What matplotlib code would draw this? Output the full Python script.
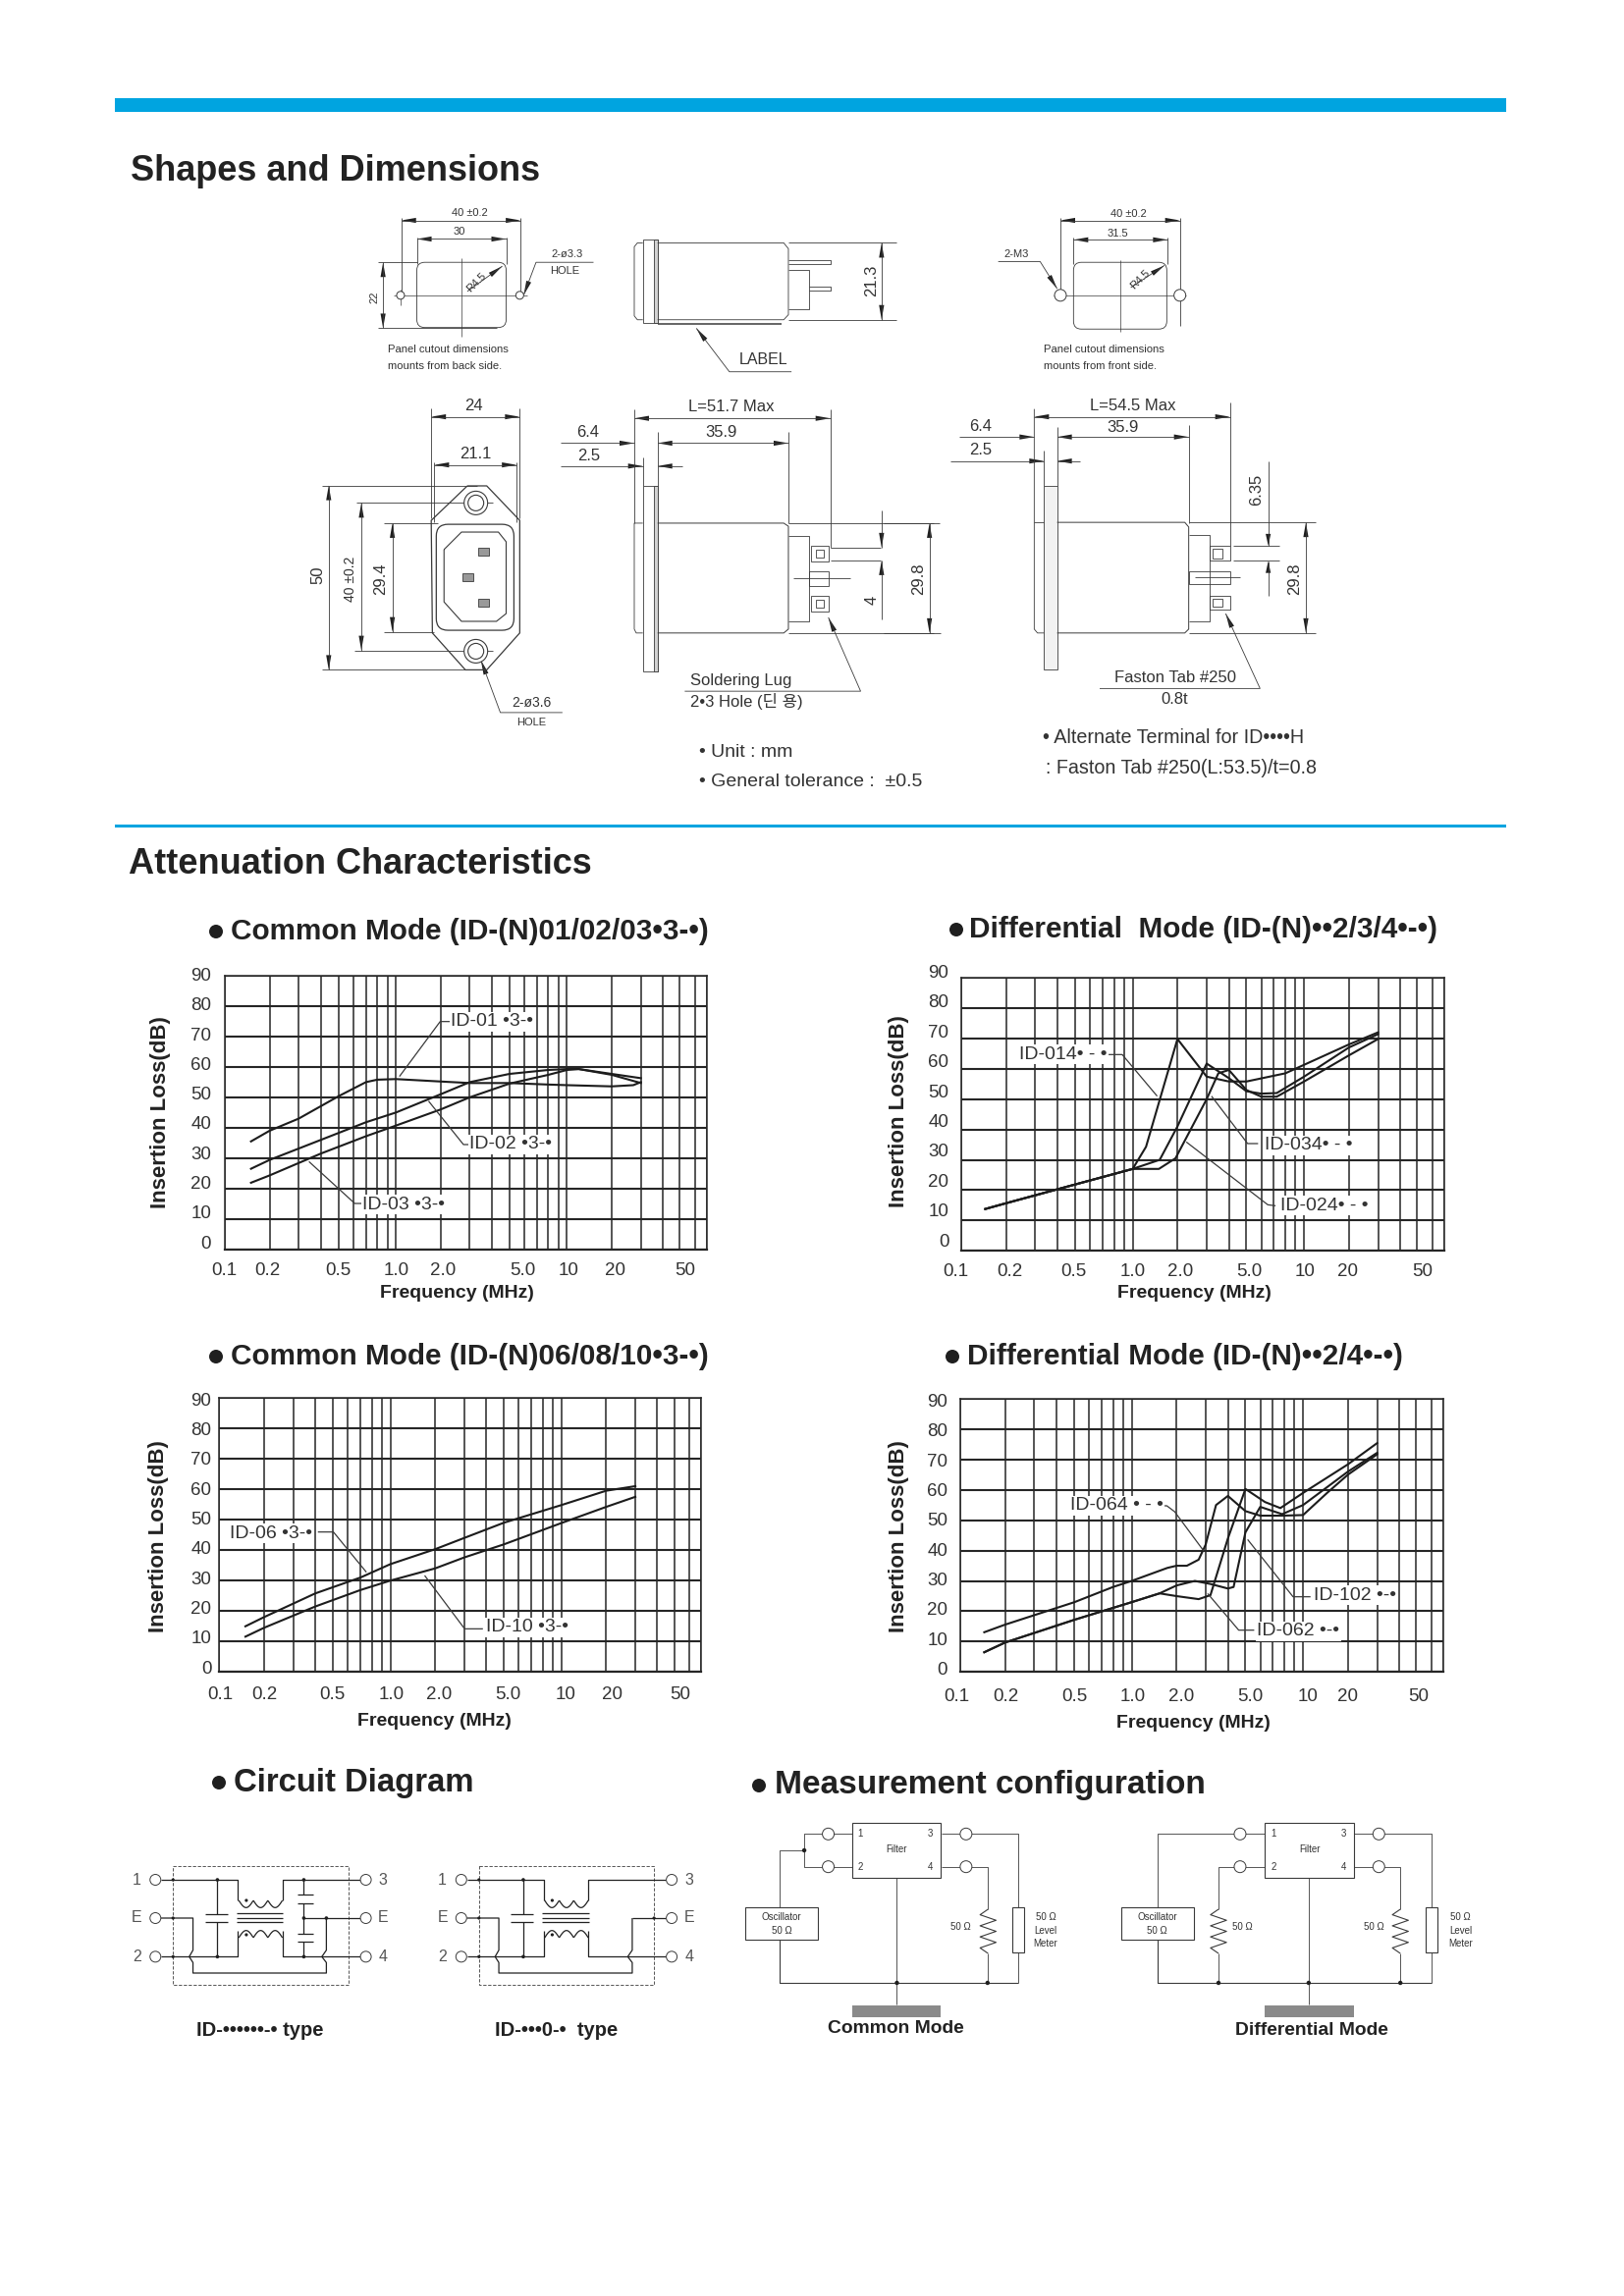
import numpy as np
import matplotlib
matplotlib.use("Agg")
import matplotlib.pyplot as plt
from matplotlib.patches import Circle, FancyBboxPatch, Polygon, Rectangle
from matplotlib.transforms import ScaledTranslation

plt.rcParams["font.family"] = ["Liberation Sans", "Noto Sans CJK KR", "DejaVu Sans"]

# grid of the printed log paper, frequency in MHz
grid_freq = [0.1, 0.2, 0.3, 0.4, 0.5, 0.6, 0.7, 0.8, 0.9, 1, 2, 3, 4, 5, 6, 7, 8, 9, 10,
             20, 30, 40, 50, 60, 70]
tick_freq = [0.1, 0.2, 0.5, 1, 2, 5, 10, 20, 50]
tick_text = ["0.1", "0.2", "0.5", "1.0", "2.0", "5.0", "10", "20", "50"]
db_ticks = [0, 10, 20, 30, 40, 50, 60, 70, 80, 90]

# common mode 01/02/03
id01_f = [0.15, 0.2, 0.3, 0.5, 0.7, 0.8, 1, 2, 3, 5, 8, 10, 20, 27, 30]
id01_db = [35.5, 39, 43, 50.4, 55, 55.8, 56, 55.2, 54.7, 54.7, 54.2, 54, 53.6, 54, 55]
id02_f = [0.15, 0.2, 0.4, 0.7, 1, 2, 3, 5, 8, 10, 12, 20, 30]
id02_db = [26.5, 29.4, 36, 41.8, 45, 51, 55, 57.7, 59, 59.3, 59.3, 57.7, 56.3]
id03_f = [0.15, 0.2, 0.4, 0.7, 1, 2, 3, 5, 8, 10, 12, 20, 30]
id03_db = [21.9, 24.3, 31.5, 37.2, 40.7, 46, 50, 54.5, 57.4, 59, 59.3, 57.4, 54.7]

# differential mode 014/024/034
id014_f = [0.145, 0.2, 0.4, 1, 1.23, 2, 3, 4, 5, 8, 20, 30]
id014_db = [13.8, 15.7, 20.3, 27, 34.3, 69.8, 57.4, 55.8, 55.8, 58.5, 68, 72]
id024_f = [0.145, 0.2, 0.4, 1, 1.52, 2, 3, 4, 5, 6, 7.25, 10, 20, 30]
id024_db = [13.8, 15.7, 20.3, 27, 30, 41, 61.7, 56.9, 52.6, 51.8, 52, 57.4, 67, 71.4]
id034_f = [0.145, 0.2, 0.4, 1, 1.5, 1.94, 3, 3.49, 4, 5, 6, 7.25, 10, 20, 30]
id034_db = [13.8, 15.7, 20.3, 27, 27, 30.5, 50, 58.5, 59.6, 53, 50.8, 50.8, 55.8, 64.4, 69.8]

# common mode 06/08/10
id06_f = [0.15, 0.2, 0.4, 0.7, 1, 2, 3, 5, 10, 20, 30]
id06_db = [15, 18, 25.8, 31, 35.4, 40.3, 44, 49, 54.8, 59.5, 61]
id10_f = [0.15, 0.2, 0.4, 0.7, 1, 2, 3, 5, 10, 20, 30]
id10_db = [11.6, 14.5, 21.5, 26.9, 30, 34, 37.6, 41.9, 48.9, 54.2, 57.5]

# differential mode 064/062/102
id064_f = [0.145, 0.2, 0.5, 0.8, 1, 1.74, 2, 2.31, 2.72, 3, 3.43, 4, 5, 6, 7.8, 10, 14.5, 20, 30]
id064_db = [13.1, 15.6, 23, 28, 30, 34.3, 35, 35, 37, 42, 55, 58, 53, 51.5, 51.5, 51.7, 59, 65, 71.7]
id102_f = [0.145, 0.2, 0.5, 1, 1.54, 2, 2.58, 3.19, 4, 4.3, 5, 6, 7.8, 10, 20, 30]
id102_db = [6.5, 9.7, 17.2, 23, 25.9, 28.5, 30, 29, 27.5, 28, 46, 54.4, 52, 55, 66, 72.2]
id062_f = [0.145, 0.2, 0.5, 1, 1.54, 2, 2.72, 3.19, 4, 5, 6.36, 7.64, 10, 20, 30]
id062_db = [6.5, 9.7, 17.2, 23, 25.9, 25, 24, 25.3, 44, 60.3, 56, 54, 59, 68.4, 75.4]

W, H = 1654, 2339
DPI = 100
INK = "#262626"
BLUE = "#00a4e0"

fig = plt.figure(figsize=(W / DPI, H / DPI), dpi=DPI, facecolor="white")
pg = fig.add_axes([0, 0, 1, 1], zorder=5)
pg.set_xlim(0, W)
pg.set_ylim(H, 0)
pg.axis("off")
pg.patch.set_visible(False)

# the printed grid is not a true log scale, so the axis follows its line positions
grid_pos = np.array([0, 115, 190, 247, 293, 330, 363, 392, 418, 440, 555, 630, 687, 732, 770,
                     802, 832, 858, 880, 995, 1070, 1126, 1170, 1209, 1240], dtype=float)
log_freq = np.log10(grid_freq)


def to_paper(f):
    return np.interp(np.log10(np.clip(f, 1e-3, None)), log_freq, grid_pos)


def from_paper(p):
    return 10 ** np.interp(p, grid_pos, log_freq)


def chart(box, curves, tick_dx, db_up, ypad, xdist, xlabel_xy, ylabel_xy):
    left, right, top, bottom = box
    ax = fig.add_axes([left / W, 1 - bottom / H, (right - left) / W, (bottom - top) / H], zorder=1)
    ax.set_xscale("function", functions=(to_paper, from_paper))
    ax.set_xlim(0.1, 70)
    ax.set_ylim(0, 90)
    ax.set_xticks(tick_freq, tick_text)
    ax.set_xticks(grid_freq, minor=True)
    ax.set_yticks(db_ticks)
    ax.tick_params(which="both", length=0, labelcolor="#333333", labelsize=13.5)
    ax.tick_params(axis="x", pad=(xdist - 6.5) / 1.389)
    ax.tick_params(axis="y", pad=ypad / 1.389)
    ax.grid(which="major", axis="x", color=INK, lw=1.1)
    ax.grid(which="minor", axis="x", color=INK, lw=1.1)
    ax.grid(which="major", axis="y", color=INK, lw=1.5)
    ax.set_axisbelow(True)
    for s in ax.spines.values():
        s.set_linewidth(1.1)
        s.set_color(INK)
    ax.spines["bottom"].set_linewidth(1.6)
    for f, db in curves:
        ax.plot(f, db, color="#1c1c1c", lw=1.5, solid_joinstyle="round", zorder=3)
    # printed labels sit a little off their grid lines
    for lab, dx in zip(ax.get_xticklabels(), tick_dx):
        lab.set_transform(lab.get_transform() + ScaledTranslation(dx / DPI, 0, fig.dpi_scale_trans))
    for lab, up in zip(ax.get_yticklabels(), np.linspace(db_up[0], db_up[1], 10)):
        lab.set_transform(lab.get_transform() + ScaledTranslation(0, up / DPI, fig.dpi_scale_trans))
    ax.set_xlabel("Frequency (MHz)", fontsize=14, fontweight="bold", color="#222222", va="center")
    ax.xaxis.set_label_coords((xlabel_xy[0] - left) / (right - left), (bottom - xlabel_xy[1]) / (bottom - top))
    ax.set_ylabel("Insertion Loss(dB)", fontsize=16, fontweight="bold", color="#222222", va="center")
    ax.yaxis.set_label_coords((ylabel_xy[0] - left) / (right - left), (bottom - ylabel_xy[1]) / (bottom - top))
    return ax


chart((229, 720, 994, 1272.7), [(id01_f, id01_db), (id02_f, id02_db), (id03_f, id03_db)],
      [-1, -2, -1, 0, 2, 13, 2, 4, 5], (7.7, 1.3), 14, 20, (465, 1318), (164, 1133))
chart((979, 1471, 996, 1274.3), [(id014_f, id014_db), (id024_f, id024_db), (id034_f, id034_db)],
      [-6, 4, -2, 0, 3, 3, 1, -1, 5], (11, 6.7), 12.6, 19, (1216, 1318), (915, 1132))
chart((223.3, 714.4, 1424, 1703.3), [(id06_f, id06_db), (id10_f, id10_db)],
      [1, 1, -1, 1, 4, 4, 4, 6, 6], (5, -1), 8, 21.7, (442, 1753), (162, 1565))
chart((978, 1470, 1425, 1703.3), [(id064_f, id064_db), (id102_f, id102_db), (id062_f, id062_db)],
      [-4, 1, 0, 1, 5, 5, 5, 0, 2], (4, -1.7), 13, 23.4, (1215, 1755), (915, 1565))


# zoom style coordinates -> page pixels
def zmap(x0, y0, sx, sy):
    return lambda x, y: (x0 + x / sx, y0 + y / sy)


def line(m, pts, lw=0.6, color="#3a3a3a", **kw):
    xy = np.array([m(*p) for p in pts])
    pg.plot(xy[:, 0], xy[:, 1], color=color, lw=lw, solid_capstyle="butt", **kw)


def arrow_head(tip, frm, length=15, half=2.6):
    tip, frm = np.array(tip, float), np.array(frm, float)
    d = (frm - tip) / np.hypot(*(frm - tip))
    n = np.array([-d[1], d[0]])
    pg.add_patch(Polygon([tip, tip + d * length + n * half, tip + d * length - n * half],
                         closed=True, color="#1f1f1f", lw=0))


def dim(m, a, b, lw=0.6):
    # dimension line with arrows pointing at both ends
    line(m, [a, b], lw=lw)
    arrow_head(m(*a), m(*b))
    arrow_head(m(*b), m(*a))


def leader(m, pts):
    line(m, pts)
    arrow_head(m(*pts[0]), m(*pts[1]))


def txt(m, x, y, s, size=12, ha="center", va="center", **kw):
    kw.setdefault("color", "#333333")
    px, py = m(x, y)
    pg.text(px, py, s, fontsize=size, ha=ha, va=va, **kw)


def rect(m, x1, y1, x2, y2, lw=0.6, fc="none", ec="#3a3a3a", **kw):
    a, b = m(x1, y1), m(x2, y2)
    pg.add_patch(Rectangle(a, b[0] - a[0], b[1] - a[1], fc=fc, ec=ec, lw=lw, **kw))


def rrect(m, x1, y1, x2, y2, r, lw=0.6, ec="#3a3a3a"):
    a, b = m(x1, y1), m(x2, y2)
    pg.add_patch(FancyBboxPatch(a, b[0] - a[0], b[1] - a[1],
                                boxstyle="round,pad=0,rounding_size=%g" % r, fc="none", ec=ec, lw=lw))


def circ(m, x, y, r, lw=0.7, fc="white", ec="#3a3a3a"):
    pg.add_patch(Circle(m(x, y), r, fc=fc, ec=ec, lw=lw, zorder=4))


def dot(m, x, y, r=2.2):
    pg.add_patch(Circle(m(x, y), r, fc="#1f1f1f", ec="none", zorder=4))


page = lambda x, y: (x, y)

# header bars and headings
pg.add_patch(Rectangle((117, 100), 1417, 14, fc=BLUE, ec="none"))
pg.add_patch(Rectangle((117, 840), 1417, 3, fc=BLUE, ec="none"))
txt(page, 133, 175, "Shapes and Dimensions", 26, ha="left", fontweight="bold", color="#222222")
txt(page, 131, 881, "Attenuation Characteristics", 26, ha="left", fontweight="bold", color="#222222")


def bullet_title(bx, by, tx, s, size=21.4):
    dot(page, bx, by, 7)
    txt(page, tx, by, s, size, ha="left", fontweight="bold", color="#222222")


bullet_title(220, 949, 235, "Common Mode (ID-(N)01/02/03\u20223-\u2022)")
bullet_title(974, 947, 987, "Differential  Mode (ID-(N)\u2022\u20222/3/4\u2022-\u2022)")
bullet_title(220, 1382, 235, "Common Mode (ID-(N)06/08/10\u20223-\u2022)")
bullet_title(970, 1382, 985, "Differential Mode (ID-(N)\u2022\u20222/4\u2022-\u2022)")
bullet_title(223, 1816, 238, "Circuit Diagram", 23.7)
bullet_title(773, 1819, 789, "Measurement configuration", 24.1)

# chart call-outs
LAB = dict(size=14, ha="left", color="#333333", bbox=dict(fc="white", ec="none", pad=1))
m = zmap(130, 920, 2.529, 3)
line(m, [(700, 530), (805, 362), (830, 362)], lw=0.9)
txt(m, 832, 362, "ID-01 \u20223-\u2022", **LAB)
line(m, [(775, 605), (865, 738), (880, 738)], lw=0.9)
txt(m, 880, 738, "ID-02 \u20223-\u2022", **LAB)
line(m, [(467, 790), (585, 918), (605, 918)], lw=0.9)
txt(m, 605, 922, "ID-03 \u20223-\u2022", **LAB)
m = zmap(880, 920, 2.529, 3)
line(m, [(630, 463), (665, 463), (755, 590)], lw=0.9)
txt(m, 400, 463, "ID-014\u2022 - \u2022", **LAB)
line(m, [(895, 590), (988, 735), (1015, 735)], lw=0.9)
txt(m, 1033, 740, "ID-034\u2022 - \u2022", **LAB)
line(m, [(830, 730), (1040, 922), (1060, 925)], lw=0.9)
txt(m, 1072, 925, "ID-024\u2022 - \u2022", **LAB)
m = zmap(130, 1360, 2.529, 3)
line(m, [(490, 602), (530, 602), (615, 725)], lw=0.9)
txt(m, 262, 607, "ID-06 \u20223-\u2022", **LAB)
line(m, [(765, 735), (868, 898), (915, 898)], lw=0.9)
txt(m, 922, 893, "ID-10 \u20223-\u2022", **LAB)
m = zmap(880, 1360, 2.529, 3)
line(m, [(680, 522), (780, 522), (800, 540), (875, 660)], lw=0.9)
txt(m, 530, 522, "ID-064 \u2022 - \u2022", **LAB)
line(m, [(988, 625), (1105, 800), (1150, 800)], lw=0.9)
txt(m, 1158, 795, "ID-102 \u2022-\u2022", **LAB)
line(m, [(885, 790), (965, 902), (1005, 902)], lw=0.9)
txt(m, 1012, 905, "ID-062 \u2022-\u2022", **LAB)

# ---- left cutout and side view
m = zmap(300, 200, 2.529, 2.529)
dim(m, (275, 62), (582, 62))
line(m, [(275, 55), (275, 262)])
line(m, [(582, 55), (582, 262)])
txt(m, 450, 42, "40 \u00b10.2", 8)
dim(m, (315, 110), (545, 110))
line(m, [(315, 105), (315, 175)])
line(m, [(545, 105), (545, 175)])
txt(m, 424, 92, "30", 8)
rrect(m, 315, 170, 545, 338, 8)
line(m, [(430, 160), (430, 362)], lw=0.5)
line(m, [(255, 255), (600, 255)], lw=0.5)
circ(m, 273, 255, 4)
circ(m, 580, 255, 4)
line(m, [(273, 240), (273, 280)], lw=0.5)
dim(m, (228, 170), (228, 340))
line(m, [(215, 170), (315, 170)])
line(m, [(215, 340), (520, 340)])
txt(m, 205, 260, "22", 8, rotation=90)
txt(m, 468, 222, "R4.5", 8, rotation=45)
leader(m, [(535, 180), (445, 245)])
leader(m, [(590, 255), (622, 170), (770, 170)])
txt(m, 703, 150, "2-\u00f83.3", 8)
txt(m, 697, 192, "HOLE", 8)
txt(m, 240, 395, "Panel cutout dimensions", 8.1, ha="left")
txt(m, 240, 437, "mounts from back side.", 8.1, ha="left")

line(m, [(935, 120), (1260, 120), (1272, 135), (1272, 305), (1260, 318), (935, 318)])
rect(m, 897, 112, 935, 325)
rect(m, 925, 112, 935, 325, fc="#d2d2d2")
line(m, [(897, 120), (883, 120), (875, 130), (875, 308), (883, 318), (897, 318)])
line(m, [(1272, 120), (1550, 120)])
line(m, [(1272, 318), (1550, 318)])
dim(m, (1512, 120), (1512, 318))
txt(m, 1487, 218, "21.3", 12, rotation=90)
line(m, [(1272, 165), (1380, 165), (1380, 175), (1272, 175)])
line(m, [(1272, 190), (1325, 190), (1325, 290), (1272, 290)])
line(m, [(1325, 232), (1380, 232), (1380, 243), (1325, 243)])
line(m, [(935, 328), (1255, 328)], lw=1.1)
leader(m, [(1035, 340), (1120, 452), (1280, 452)])
txt(m, 1207, 422, "LABEL", 11.5)

# ---- front view
dim(m, (352, 568), (580, 568))
line(m, [(352, 545), (352, 830)])
line(m, [(580, 545), (580, 830)])
txt(m, 462, 540, "24", 12)
dim(m, (360, 692), (572, 692))
line(m, [(360, 685), (360, 840)])
line(m, [(572, 685), (572, 840)])
txt(m, 465, 665, "21.1", 12)
line(m, [(445, 746), (495, 746), (580, 835), (580, 1125), (495, 1220), (440, 1220),
         (355, 1125), (352, 835), (445, 746)], lw=0.9)
rrect(m, 365, 845, 565, 1118, 12, lw=0.9)
line(m, [(385, 910), (430, 865), (525, 865), (545, 890), (545, 1075), (520, 1095), (430, 1095),
         (385, 1045), (385, 910)], lw=0.8)
for cy in (790, 1172):
    circ(m, 467, cy, 12, lw=0.8)
    circ(m, 467, cy, 8, lw=0.8)
for px, py in [(472, 905), (432, 972), (472, 1038)]:
    rect(m, px, py, px + 28, py + 20, fc="#999999")
dim(m, (88, 745), (88, 1220))
line(m, [(70, 745), (470, 745)])
line(m, [(70, 1220), (450, 1220)])
txt(m, 60, 975, "50", 12, rotation=90)
dim(m, (172, 790), (172, 1170))
line(m, [(160, 790), (510, 790)])
line(m, [(155, 1170), (510, 1170)])
txt(m, 145, 985, "40 \u00b10.2", 10, rotation=90)
dim(m, (252, 842), (252, 1122))
line(m, [(230, 842), (370, 842)])
line(m, [(230, 1122), (360, 1122)])
txt(m, 222, 985, "29.4", 12, rotation=90)
leader(m, [(480, 1195), (530, 1330), (690, 1330)])
txt(m, 610, 1305, "2-\u00f83.6", 10)
txt(m, 610, 1355, "HOLE", 8)

# ---- middle side view
rect(m, 897, 745, 935, 1225)
rect(m, 925, 745, 935, 1225, fc="#d2d2d2")
line(m, [(935, 842), (1260, 842), (1272, 850), (1272, 1115), (1260, 1125), (935, 1125)], lw=0.7)
line(m, [(897, 842), (875, 842), (875, 1115), (880, 1125), (897, 1125)])
line(m, [(875, 548), (875, 842)])
line(m, [(897, 672), (897, 745)])
line(m, [(935, 608), (935, 745)])
line(m, [(1272, 608), (1272, 842)])
line(m, [(1380, 548), (1380, 905)])
dim(m, (875, 572), (1380, 572))
txt(m, 1125, 543, "L=51.7 Max", 12)
dim(m, (935, 636), (1272, 636))
txt(m, 1100, 608, "35.9", 12)
leader(m, [(875, 636), (685, 636)])
txt(m, 755, 608, "6.4", 12)
leader(m, [(897, 695), (685, 695)])
leader(m, [(935, 695), (1000, 695)])
txt(m, 758, 670, "2.5", 12)
line(m, [(1272, 842), (1646, 842)])
line(m, [(1272, 1125), (1646, 1125)])
line(m, [(1272, 875), (1325, 875), (1325, 1095), (1272, 1095)])
rect(m, 1330, 900, 1375, 940)
rect(m, 1342, 910, 1362, 930)
rect(m, 1325, 965, 1375, 1005)
line(m, [(1285, 985), (1432, 985)])
rect(m, 1330, 1030, 1375, 1070)
rect(m, 1342, 1040, 1362, 1060)
line(m, [(1380, 905), (1510, 905)])
line(m, [(1380, 938), (1510, 938)])
leader(m, [(1512, 905), (1512, 810)])
leader(m, [(1512, 938), (1512, 1090)])
txt(m, 1487, 1040, "4", 12, rotation=90)
leader(m, [(1375, 1085), (1458, 1275), (1005, 1275)])
txt(m, 1150, 1248, "Soldering Lug", 12)
txt(m, 1165, 1300, "2\u20223 Hole (\ub518 \uc6a9)", 12)
txt(m, 1042, 1432, "\u2022 Unit : mm", 14, ha="left")
txt(m, 1042, 1508, "\u2022 General tolerance :  \u00b10.5", 14, ha="left")

# ---- right cutout and side view
m = zmap(900, 200, 3, 2.529)
dim(m, (540, 62), (905, 62))
line(m, [(540, 55), (540, 260)])
line(m, [(905, 55), (905, 335)])
txt(m, 748, 45, "40 \u00b10.2", 8)
dim(m, (580, 112), (868, 112))
line(m, [(580, 105), (580, 175)])
line(m, [(868, 105), (868, 175)])
txt(m, 715, 95, "31.5", 8)
rrect(m, 580, 170, 865, 342, 8)
line(m, [(722, 165), (722, 348)], lw=0.5)
line(m, [(520, 255), (925, 255)], lw=0.5)
circ(m, 540, 255, 6)
circ(m, 905, 255, 6)
txt(m, 785, 215, "R4.5", 8, rotation=45)
leader(m, [(858, 178), (755, 235)])
leader(m, [(530, 238), (478, 168), (350, 168)])
txt(m, 405, 150, "2-M3", 8)
txt(m, 490, 395, "Panel cutout dimensions", 8.1, ha="left")
txt(m, 490, 437, "mounts from front side.", 8.1, ha="left")

dim(m, (460, 568), (1058, 568))
txt(m, 760, 540, "L=54.5 Max", 12)
line(m, [(460, 548), (460, 1115), (470, 1125), (490, 1125)])
line(m, [(460, 840), (490, 840)])
line(m, [(1058, 530), (1058, 900)])
dim(m, (530, 620), (932, 620))
txt(m, 730, 595, "35.9", 12)
line(m, [(530, 595), (530, 745)])
line(m, [(932, 590), (932, 842)])
leader(m, [(460, 620), (230, 620)])
txt(m, 295, 592, "6.4", 12)
leader(m, [(490, 682), (205, 682)])
leader(m, [(530, 682), (600, 682)])
txt(m, 295, 655, "2.5", 12)
line(m, [(490, 655), (490, 745)])
rect(m, 490, 745, 530, 1220, fc="#f2f2f2")
line(m, [(530, 840), (920, 840), (932, 852), (932, 1115), (920, 1125), (530, 1125)], lw=0.7)
line(m, [(932, 840), (1320, 840)])
line(m, [(932, 1125), (1320, 1125)])
dim(m, (1290, 840), (1290, 1125))
txt(m, 1255, 985, "29.8", 12, rotation=90)
line(m, [(0, 842), (170, 842)])
line(m, [(0, 1125), (175, 1125)])
dim(m, (140, 842), (140, 1125))
txt(m, 108, 985, "29.8", 12, rotation=90)
line(m, [(1175, 682), (1175, 900)])
line(m, [(1175, 940), (1175, 1030)])
arrow_head(m(1175, 900), m(1175, 840), 12)
arrow_head(m(1175, 940), m(1175, 990), 12)
txt(m, 1140, 755, "6.35", 12, rotation=90)
line(m, [(932, 872), (995, 872), (995, 1095), (932, 1095)])
rect(m, 995, 900, 1058, 938)
rect(m, 1005, 908, 1035, 932)
rect(m, 932, 965, 1058, 1000)
line(m, [(950, 982), (1090, 982)])
rect(m, 995, 1030, 1058, 1065)
rect(m, 1005, 1038, 1035, 1058)
line(m, [(1068, 900), (1210, 900)])
line(m, [(1068, 938), (1210, 938)])
leader(m, [(1045, 1075), (1150, 1268), (660, 1268)])
txt(m, 890, 1240, "Faston Tab #250", 12)
txt(m, 890, 1297, "0.8t", 12)
txt(m, 485, 1396, "\u2022 Alternate Terminal for ID\u2022\u2022\u2022\u2022H", 14.2, ha="left")
txt(m, 495, 1472, ": Faston Tab #250(L:53.5)/t=0.8", 14.2, ha="left")

# ---- circuit diagrams
m = zmap(120, 1790, 2.613, 3)


def bumps(dx, y, up):
    # coil drawn as three half loops between the two winding legs
    xs = np.linspace(322 + dx, 438 + dx, 60)
    ys = y + (1 if up else -1) * 22 * np.abs(np.sin(3 * np.pi * (xs - 322 - dx) / 116))
    line(m, list(zip(xs, ys)), lw=0.9, color="#222222")


def circuit(dx, right_caps):
    rect(m, 147 + dx, 333, 613 + dx, 697, ls=(0, (4, 2)))
    for y, a, b in [(375, "1", "3"), (492, "E", "E"), (610, "2", "4")]:
        circ(m, 100 + dx, y, 5.5)
        circ(m, 660 + dx, y, 5.5)
        txt(m, 50 + dx, y, a, 11.5, color="#555555")
        txt(m, 706 + dx, y, b, 11.5, color="#555555")
        dot(m, 147 + dx, y, 1.6)
    K = dict(lw=0.9, color="#222222")
    line(m, [(115 + dx, 375), (320 + dx, 375), (320 + dx, 438)], **K)
    line(m, [(438 + dx, 438), (438 + dx, 375), (645 + dx, 375)], **K)
    line(m, [(115 + dx, 610), (320 + dx, 610), (320 + dx, 530)], **K)
    line(m, [(438 + dx, 530), (438 + dx, 610), (645 + dx, 610)], **K)
    bumps(dx, 438, True)
    bumps(dx, 552, False)
    for y in (478, 492, 505):
        line(m, [(315 + dx, y), (440 + dx, y)], **K)
    dot(m, 342 + dx, 438, 1.6)
    dot(m, 342 + dx, 543, 1.6)
    # earth loop with little hops over line 2
    line(m, [(115 + dx, 492), (200 + dx, 492), (200 + dx, 590), (190 + dx, 610), (200 + dx, 628),
             (200 + dx, 660), (555 + dx, 660), (555 + dx, 628), (543 + dx, 610), (555 + dx, 590),
             (555 + dx, 492)], **K)
    line(m, [(555 + dx, 492), (645 + dx, 492)], **K)
    line(m, [(265 + dx, 375), (265 + dx, 480)], **K)
    line(m, [(232 + dx, 480), (292 + dx, 480)], **K)
    line(m, [(232 + dx, 503), (292 + dx, 503)], **K)
    line(m, [(265 + dx, 503), (265 + dx, 610)], **K)
    dot(m, 265 + dx, 375, 1.8)
    dot(m, 265 + dx, 610, 1.8)
    if right_caps:
        line(m, [(495 + dx, 375), (495 + dx, 420)], **K)
        line(m, [(478 + dx, 420), (520 + dx, 420)], **K)
        line(m, [(478 + dx, 447), (520 + dx, 447)], **K)
        line(m, [(495 + dx, 447), (495 + dx, 540)], **K)
        line(m, [(478 + dx, 540), (520 + dx, 540)], **K)
        line(m, [(478 + dx, 565), (520 + dx, 565)], **K)
        line(m, [(495 + dx, 565), (495 + dx, 610)], **K)
        line(m, [(495 + dx, 492), (555 + dx, 492)], **K)
        for y in (375, 492, 610):
            dot(m, 495 + dx, y, 1.8)
        dot(m, 555 + dx, 492, 1.8)
    else:
        dot(m, 613 + dx, 492, 1.6)


circuit(0, True)
circuit(814, False)
txt(m, 378, 835, "ID-\u2022\u2022\u2022\u2022\u2022\u2022-\u2022 type", 14.5, fontweight="bold", color="#222222")
txt(m, 1168, 835, "ID-\u2022\u2022\u20220-\u2022  type", 14.5, fontweight="bold", color="#222222")

# ---- measurement configuration
m = zmap(740, 1790, 1.96, 3)


def zigzag(x, y1, y2):
    ys = np.linspace(y1, y2, 9)
    xs = [x] + [x + (16 if i % 2 else -16) for i in range(7)] + [x]
    line(m, list(zip(xs, ys)), lw=0.8)


def filter_box(x1):
    x2 = x1 + 178
    rect(m, x1, 200, x2, 370, lw=0.8)
    txt(m, (x1 + x2) / 2, 282, "Filter", 7)
    txt(m, x1 + 17, 235, "1", 7)
    txt(m, x1 + 17, 335, "2", 7)
    txt(m, x2 - 22, 235, "3", 7)
    txt(m, x2 - 22, 335, "4", 7)


def ground(x1, xc):
    line(m, [(xc, 370), (xc, 755)], lw=0.6)
    rect(m, x1, 760, x1 + 178, 795, fc="#8a8a8a", ec="none")
    dot(m, xc, 690)


def meter(x, tx):
    rect(m, x - 12, 460, x + 12, 598, lw=0.8)
    txt(m, tx, 490, "50 \u03a9", 7)
    txt(m, tx, 530, "Level", 7)
    txt(m, tx, 570, "Meter", 7)


def osc(x1, x2, xc):
    rect(m, x1, 460, x2, 558, lw=0.8)
    txt(m, xc, 490, "Oscillator", 7)
    txt(m, xc, 530, "50 \u03a9", 7)


# common mode
filter_box(250)
for x, y in [(203, 235), (203, 335), (478, 235), (478, 335)]:
    circ(m, x, y, 6)
line(m, [(250, 235), (155, 235), (155, 335), (250, 335)])
dot(m, 155, 285)
line(m, [(155, 285), (105, 285), (105, 460)])
osc(38, 182, 110)
line(m, [(105, 558), (105, 690), (582, 690)], lw=0.8)
ground(250, 340)
dot(m, 521, 690)
line(m, [(430, 235), (582, 235), (582, 460)])
meter(582, 637)
line(m, [(582, 598), (582, 690)])
line(m, [(430, 335), (522, 335), (522, 465)])
zigzag(522, 465, 600)
line(m, [(522, 600), (522, 690)])
txt(m, 467, 520, "50 \u03a9", 7)
txt(m, 338, 830, "Common Mode", 13.9, fontweight="bold", color="#222222")

# differential mode
filter_box(1075)
for x, y in [(1025, 235), (1025, 335), (1302, 235), (1302, 335)]:
    circ(m, x, y, 6)
line(m, [(1075, 235), (860, 235), (860, 460)])
osc(788, 932, 860)
line(m, [(860, 558), (860, 690), (1408, 690)], lw=0.8)
line(m, [(1075, 335), (982, 335), (982, 465)])
zigzag(982, 465, 600)
line(m, [(982, 600), (982, 690)])
dot(m, 982, 690)
txt(m, 1030, 520, "50 \u03a9", 7)
ground(1075, 1162)
line(m, [(1252, 235), (1408, 235), (1408, 460)])
meter(1408, 1465)
line(m, [(1408, 598), (1408, 690)])
line(m, [(1252, 335), (1345, 335), (1345, 465)])
zigzag(1345, 465, 600)
line(m, [(1345, 600), (1345, 690)])
dot(m, 1345, 690)
txt(m, 1292, 520, "50 \u03a9", 7)
txt(m, 1168, 835, "Differential Mode", 13.9, fontweight="bold", color="#222222")

fig.savefig("out.png", dpi=DPI)
